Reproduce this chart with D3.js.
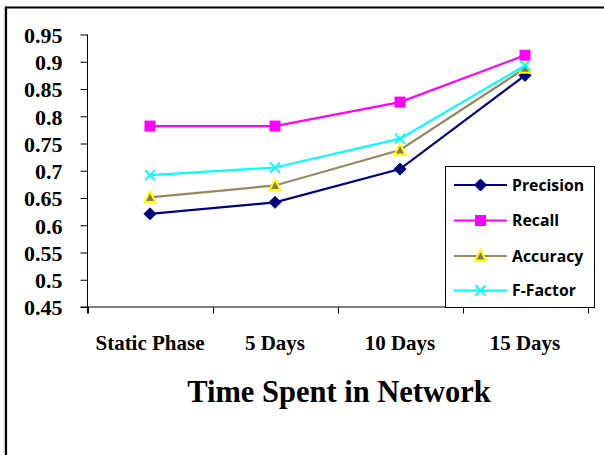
<!DOCTYPE html>
<html>
<head>
<meta charset="utf-8">
<script src="https://cdn.jsdelivr.net/npm/d3@7/dist/d3.min.js"></script>
<style>
  html, body { margin: 0; padding: 0; background: #fff; }
  svg { display: block; }
</style>
</head>
<body>
<svg id="chart" width="604" height="455"></svg>
<script>
// Categories along the x axis
const categories = ["Static Phase", "5 Days", "10 Days", "15 Days"];

// Metric values per category
const precision = [0.621, 0.642, 0.703, 0.875];
const recall    = [0.782, 0.782, 0.826, 0.912];
const accuracy  = [0.651, 0.673, 0.738, 0.888];
const fFactor   = [0.692, 0.706, 0.759, 0.893];

// Y axis tick values
const yTicks = [0.45, 0.5, 0.55, 0.6, 0.65, 0.7, 0.75, 0.8, 0.85, 0.9, 0.95];

const seriesNames = ["Precision", "Recall", "Accuracy", "F-Factor"];
const seriesValues = [precision, recall, accuracy, fFactor];

const styles = {
  "Precision": { line: "#000080", marker: "diamond", fill: "#000080", stroke: "#000080" },
  "Recall":    { line: "#ff00ff", marker: "square",  fill: "#ff00ff", stroke: "#ff00ff" },
  "Accuracy":  { line: "#948a60", marker: "triangle", fill: "#847c58", stroke: "#ffff00" },
  "F-Factor":  { line: "#00ffff", marker: "cross",   fill: "none",    stroke: "#00ffff" }
};

const svg = d3.select("#chart");

// Outer frame: top and left edges
svg.append("line").attr("x1", 5).attr("x2", 604).attr("y1", 7.5).attr("y2", 7.5)
  .attr("stroke", "#000").attr("stroke-width", 2);
svg.append("line").attr("x1", 6).attr("x2", 6).attr("y1", 6.5).attr("y2", 455)
  .attr("stroke", "#000").attr("stroke-width", 2.2);
svg.append("line").attr("x1", 4.3).attr("x2", 4.3).attr("y1", 8).attr("y2", 455)
  .attr("stroke", "#bbb").attr("stroke-width", 1);

const x = d3.scaleBand().domain(categories).range([87.5, 587.5]).padding(0);
const y = d3.scaleLinear().domain([0.45, 0.95]).range([307, 34.5]);

// Y axis
const yAxis = d3.axisLeft(y).tickValues(yTicks).tickSize(7).tickPadding(3)
  .tickFormat(d => String(+d.toFixed(2)));
const gy = svg.append("g").attr("transform", "translate(87.5,0)").call(yAxis);
gy.select(".domain").attr("d", `M0,${y(0.95)}V313.5`).attr("stroke", "#000");
gy.selectAll(".tick line").attr("stroke", "#000");
gy.selectAll(".tick text")
  .attr("x", -25)
  .attr("dy", "0.36em")
  .style("font-family", "'Liberation Serif', 'Times New Roman', serif")
  .style("font-weight", "bold")
  .style("font-size", "22px")
  .attr("fill", "#000");

// X axis with ticks at band edges
const gx = svg.append("g");
gx.append("line").attr("x1", 80.5).attr("x2", 587.5).attr("y1", 307).attr("y2", 307)
  .attr("stroke", "#000");
const edges = categories.map(c => x(c)).concat([x(categories[categories.length - 1]) + x.bandwidth()]);
gx.selectAll("line.tk").data(edges).join("line")
  .attr("class", "tk")
  .attr("x1", d => Math.round(d) + 0.5).attr("x2", d => Math.round(d) + 0.5)
  .attr("y1", 307).attr("y2", 313.5)
  .attr("stroke", "#000");
gx.selectAll("text").data(categories).join("text")
  .attr("x", d => x(d) + x.bandwidth() / 2)
  .attr("y", 350)
  .attr("text-anchor", "middle")
  .style("font-family", "'Liberation Serif', 'Times New Roman', serif")
  .style("font-weight", "bold")
  .style("font-size", "21px")
  .text(d => d);

// Axis title
svg.append("text")
  .attr("x", 339).attr("y", 401.5)
  .attr("text-anchor", "middle")
  .style("font-family", "'Liberation Serif', 'Times New Roman', serif")
  .style("font-weight", "bold")
  .style("font-size", "30.5px")
  .text("Time Spent in Network");

// Marker drawing
function drawMarker(g, type, st) {
  if (type === "diamond") {
    g.append("path").attr("d", "M0,-6L6,0L0,6L-6,0Z").attr("fill", st.fill).attr("stroke", st.stroke);
  } else if (type === "square") {
    g.append("rect").attr("x", -5).attr("y", -5).attr("width", 10).attr("height", 10)
      .attr("fill", st.fill).attr("stroke", st.stroke);
  } else if (type === "triangle") {
    g.append("path").attr("d", "M0,-6L5.5,4.5L-5.5,4.5Z").attr("fill", st.fill)
      .attr("stroke", st.stroke).attr("stroke-width", 2).attr("stroke-linejoin", "miter");
  } else if (type === "cross") {
    g.append("path").attr("d", "M-5,-5L5,5M-5,5L5,-5").attr("fill", "none")
      .attr("stroke", st.stroke).attr("stroke-width", 2);
  }
}

const line = d3.line()
  .x((d, i) => x(categories[i]) + x.bandwidth() / 2)
  .y(d => y(d));

// Series lines then markers
seriesNames.forEach((name, si) => {
  const st = styles[name];
  const vals = seriesValues[si];
  svg.append("path").datum(vals)
    .attr("d", line)
    .attr("fill", "none")
    .attr("stroke", st.line)
    .attr("stroke-width", 2.2);
  vals.forEach((v, i) => {
    const g = svg.append("g")
      .attr("transform", `translate(${x(categories[i]) + x.bandwidth() / 2},${y(v)})`);
    drawMarker(g, st.marker, st);
  });
});

// Legend
const lg = svg.append("g");
lg.append("rect").attr("x", 445.5).attr("y", 166.5).attr("width", 149).attr("height", 141)
  .attr("fill", "#fff").attr("stroke", "#000");
const legendY = [185, 220.5, 256, 290.5];
seriesNames.forEach((name, i) => {
  const st = styles[name];
  const g = lg.append("g").attr("transform", `translate(0,${legendY[i]})`);
  g.append("line").attr("x1", 454).attr("x2", 507).attr("y1", 0).attr("y2", 0)
    .attr("stroke", st.line).attr("stroke-width", 2.2);
  const m = g.append("g").attr("transform", "translate(480.5,0)");
  drawMarker(m, st.marker, st);
  g.append("text").attr("x", 512).attr("y", 0).attr("dy", "0.36em")
    .style("font-family", "'Open Sans', Lato, sans-serif")
    .style("font-weight", "bold")
    .style("font-size", "15.8px")
    .text(name);
});
</script>
</body>
</html>
